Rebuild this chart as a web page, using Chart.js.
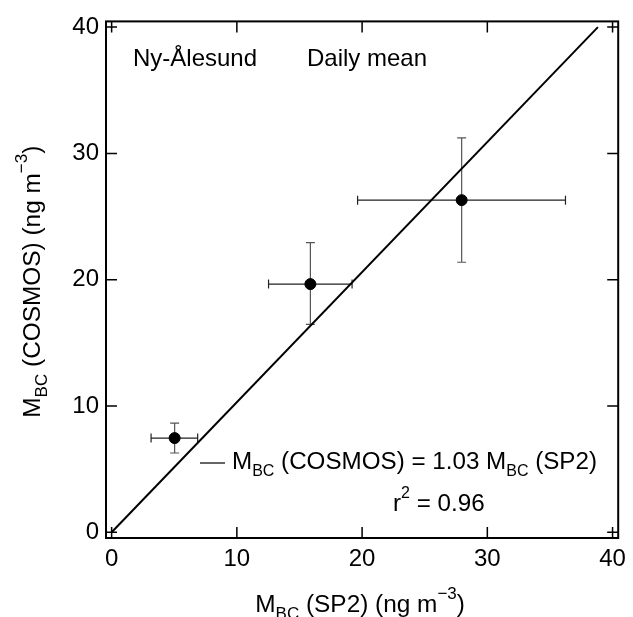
<!DOCTYPE html>
<html>
<head>
<meta charset="utf-8">
<script src="https://cdn.jsdelivr.net/npm/chart.js@4.4.1/dist/chart.umd.min.js"></script>
<style>
  html, body { margin: 0; padding: 0; background: #fff; }
  #wrap { width: 633px; height: 617px; }
</style>
</head>
<body>
<div id="wrap"><canvas id="Chart1" width="633" height="617"></canvas></div>
<script>
// daily mean points, SP2 (x) vs COSMOS (y)
var sp2 = [5.03, 15.87, 27.95];
var cosmos = [7.46, 19.65, 26.3];
var sp2Low = [3.15, 12.53, 19.64];
var sp2High = [6.87, 19.2, 36.24];
var cosmosLow = [6.28, 16.47, 21.38];
var cosmosHigh = [8.64, 22.93, 31.23];
// regression line end points
var fitX = [0, 38.83];
var fitY = [0, 40];
var tickValues = [0, 10, 20, 30, 40];

var FONT = "'Liberation Sans', Arial, Helvetica, sans-serif";

function richText(ctx, x, y, parts, size, align) {
    // parts: [text, mode] with mode '', 'sub' or 'sup'
    var small = Math.round(size * 0.68);
    var w = 0;
    parts.forEach(function (p) {
        ctx.font = (p[1] ? small : size) + 'px ' + FONT;
        w += ctx.measureText(p[0]).width;
    });
    var cx = align === 'center' ? x - w / 2 : x;
    ctx.textAlign = 'left';
    ctx.textBaseline = 'alphabetic';
    parts.forEach(function (p) {
        ctx.font = (p[1] ? small : size) + 'px ' + FONT;
        var dy = p[1] === 'sub' ? size * 0.28 : (p[1] === 'sup' ? -size * 0.55 : 0);
        ctx.fillText(p[0], cx, y + dy);
        cx += ctx.measureText(p[0]).width;
    });
}

var extras = {
    id: 'extras',
    beforeDatasetsDraw: function (chart) {
        var ctx = chart.ctx, xs = chart.scales.x, ys = chart.scales.y;
        ctx.save();
        ctx.lineWidth = 1.2;
        for (var i = 0; i < sp2.length; i++) {
            var px = xs.getPixelForValue(sp2[i]), py = ys.getPixelForValue(cosmos[i]);
            var x0 = xs.getPixelForValue(sp2Low[i]), x1 = xs.getPixelForValue(sp2High[i]);
            var y0 = ys.getPixelForValue(cosmosLow[i]), y1 = ys.getPixelForValue(cosmosHigh[i]);
            ctx.strokeStyle = '#222';
            ctx.beginPath();
            ctx.moveTo(x0, py); ctx.lineTo(x1, py);
            ctx.moveTo(x0, py - 4.5); ctx.lineTo(x0, py + 4.5);
            ctx.moveTo(x1, py - 4.5); ctx.lineTo(x1, py + 4.5);
            ctx.stroke();
            ctx.strokeStyle = '#555';
            ctx.beginPath();
            ctx.moveTo(px, y0); ctx.lineTo(px, y1);
            ctx.moveTo(px - 4.5, y0); ctx.lineTo(px + 4.5, y0);
            ctx.moveTo(px - 4.5, y1); ctx.lineTo(px + 4.5, y1);
            ctx.stroke();
        }
        ctx.restore();
    },
    afterDraw: function (chart) {
        var ctx = chart.ctx, a = chart.chartArea, xs = chart.scales.x, ys = chart.scales.y;
        ctx.save();
        // frame
        ctx.strokeStyle = '#000';
        ctx.lineWidth = 2;
        ctx.strokeRect(a.left, a.top, a.right - a.left, a.bottom - a.top);
        // inward ticks on all four sides
        ctx.lineWidth = 1.5;
        ctx.beginPath();
        tickValues.forEach(function (v) {
            var px = xs.getPixelForValue(v), py = ys.getPixelForValue(v);
            ctx.moveTo(px, a.bottom); ctx.lineTo(px, a.bottom - 11);
            ctx.moveTo(px, a.top); ctx.lineTo(px, a.top + 11);
            ctx.moveTo(a.left, py); ctx.lineTo(a.left + 11, py);
            ctx.moveTo(a.right, py); ctx.lineTo(a.right - 11, py);
        });
        ctx.stroke();

        ctx.fillStyle = '#000';
        ctx.font = '24px ' + FONT;
        ctx.textAlign = 'left';
        ctx.textBaseline = 'alphabetic';
        ctx.fillText('Ny-Ålesund', 133, 66);
        ctx.fillText('Daily mean', 307, 66);

        // legend for the fit
        ctx.lineWidth = 1.2;
        ctx.beginPath();
        ctx.moveTo(200, 463); ctx.lineTo(225, 463);
        ctx.stroke();
        richText(ctx, 232, 469, [['M', ''], ['BC', 'sub'], [' (COSMOS) = 1.03 M', ''], ['BC', 'sub'], [' (SP2)', '']], 24.2, 'left');
        richText(ctx, 393, 511, [['r', ''], ['2', 'sup'], [' = 0.96', '']], 24.2, 'left');

        // axis titles
        richText(ctx, (a.left + a.right) / 2 - 2, 612, [['M', ''], ['BC', 'sub'], [' (SP2) (ng m', ''], ['\u22123', 'sup'], [')', '']], 24.4, 'center');
        ctx.translate(40, (a.top + a.bottom) / 2 + 2);
        ctx.rotate(-Math.PI / 2);
        richText(ctx, 0, 0, [['M', ''], ['BC', 'sub'], [' (COSMOS) (ng m', ''], ['\u22123', 'sup'], [')', '']], 24.4, 'center');
        ctx.restore();
    }
};

var ctx1 = document.getElementById('Chart1').getContext('2d');
var chart1 = new Chart(ctx1, {
    type: 'scatter',
    data: {
        datasets: [{
            label: 'fit',
            type: 'line',
            data: fitX.map(function (x, i) { return { x: x, y: fitY[i] }; }),
            borderColor: '#000',
            borderWidth: 2,
            pointRadius: 0,
            fill: false
        }, {
            label: 'daily mean',
            data: sp2.map(function (x, i) { return { x: x, y: cosmos[i] }; }),
            backgroundColor: '#000',
            borderColor: '#000',
            pointRadius: 5.5
        }]
    },
    options: {
        responsive: false,
        animation: false,
        layout: { padding: { top: 19, right: 8, left: 0, bottom: 0 } },
        plugins: { legend: { display: false }, tooltip: { enabled: false } },
        scales: {
            x: {
                type: 'linear',
                min: -0.45, max: 40.45,
                afterBuildTicks: function (s) { s.ticks = tickValues.map(function (v) { return { value: v }; }); },
                afterFit: function (s) { s.height = 79; },
                grid: { display: false, drawTicks: false },
                border: { display: false },
                ticks: { color: '#000', padding: 7, maxRotation: 0, font: { family: FONT, size: 24 } }
            },
            y: {
                type: 'linear',
                min: -0.45, max: 40.45,
                afterBuildTicks: function (s) { s.ticks = tickValues.map(function (v) { return { value: v }; }); },
                afterFit: function (s) { s.width = 106; },
                grid: { display: false, drawTicks: false },
                border: { display: false },
                ticks: { color: '#000', padding: 7, font: { family: FONT, size: 24 } }
            }
        }
    },
    plugins: [extras]
});
</script>
</body>
</html>
